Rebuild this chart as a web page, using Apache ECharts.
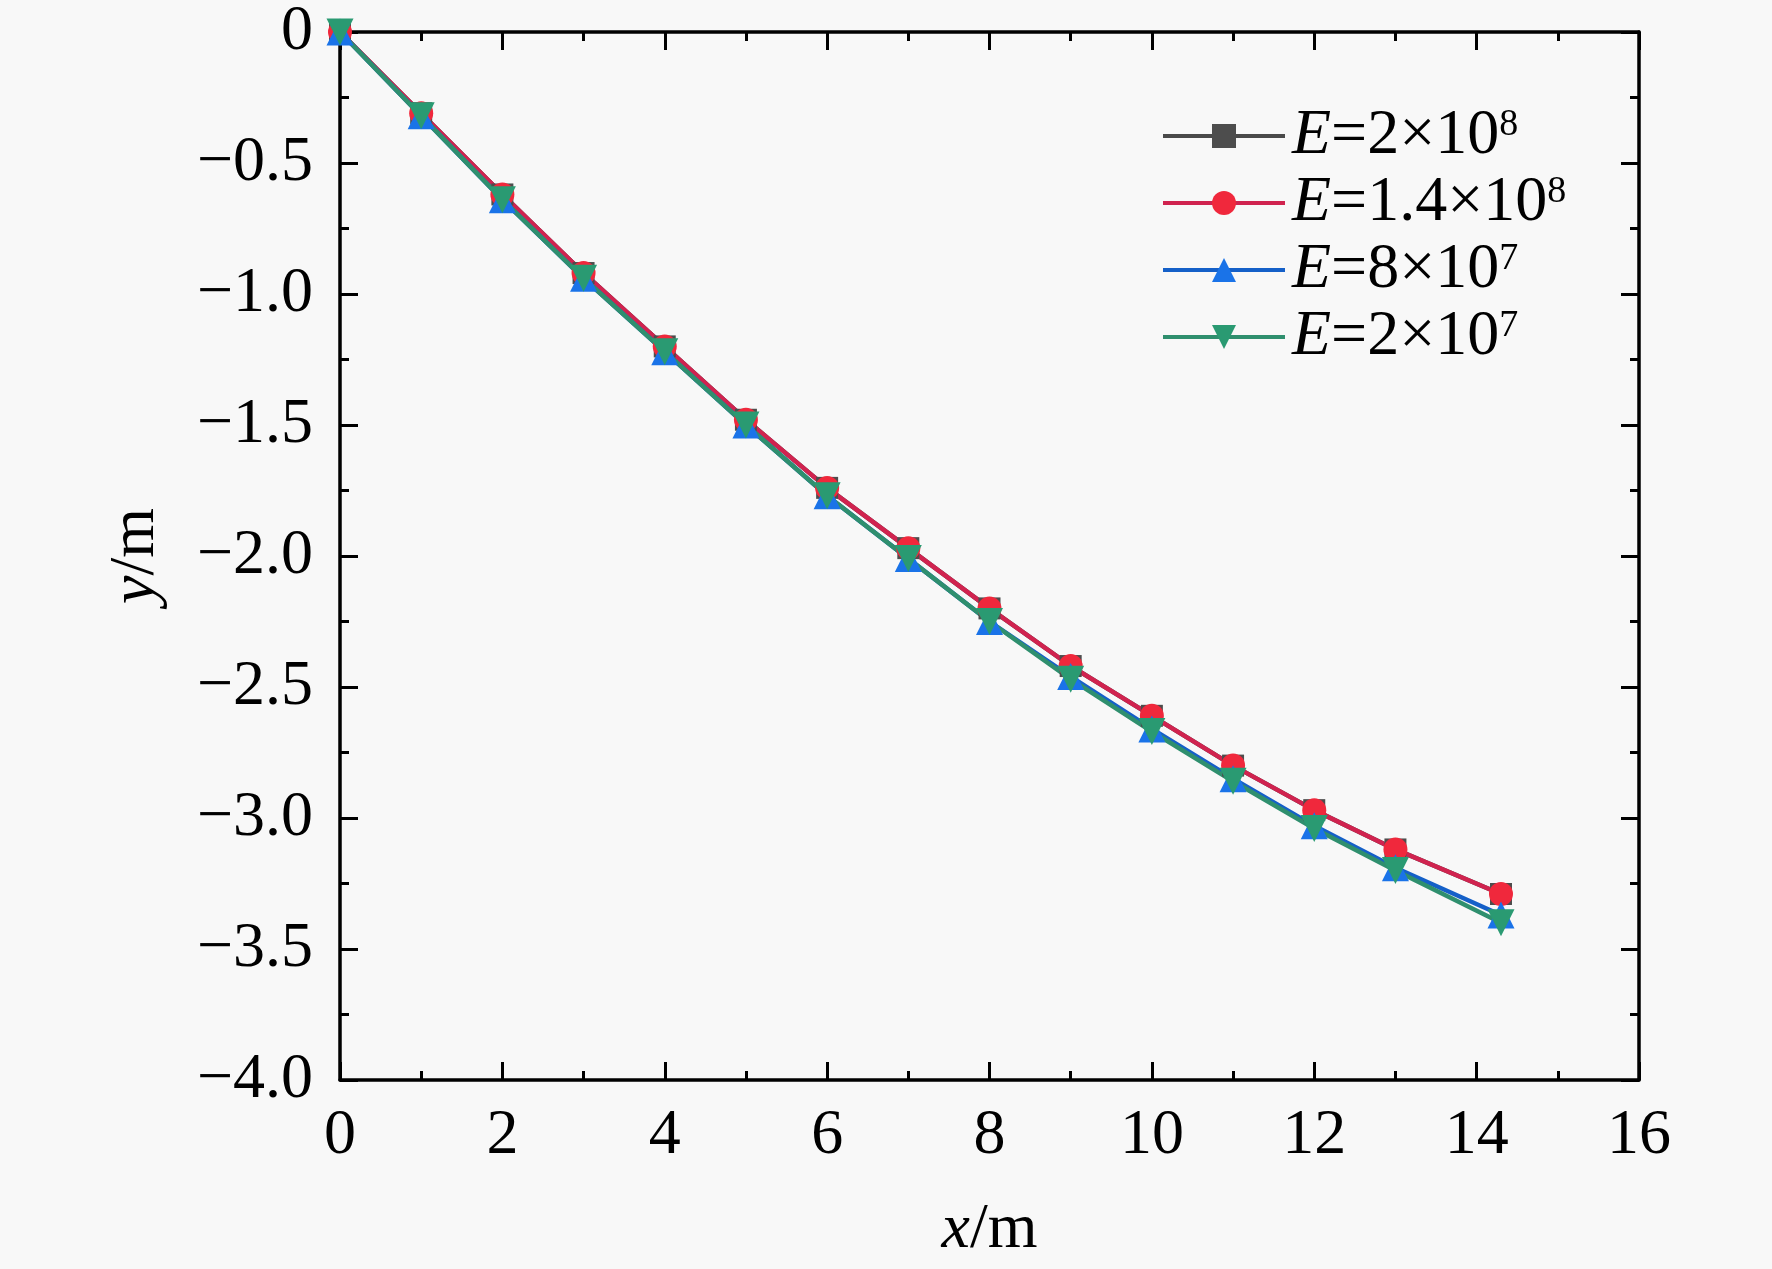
<!DOCTYPE html>
<html>
<head>
<meta charset="utf-8">
<script src="https://cdn.jsdelivr.net/npm/echarts@6/dist/echarts.min.js"></script>
<style>
html,body{margin:0;padding:0;background:#f8f8f8;}
#c{width:1772px;height:1269px;}
</style>
</head>
<body>
<div id="c"></div>
<script>
// x positions (m)
var xValues = [0, 1, 2, 3, 4, 5, 6, 7, 8, 9, 10, 11, 12, 13, 14.3];
// y deflection (m) for each modulus E
var yE2e8   = [0, -0.31, -0.62, -0.92, -1.20, -1.48, -1.74, -1.97, -2.20, -2.42, -2.61, -2.80, -2.97, -3.12, -3.29];
var yE14e8  = [0, -0.31, -0.62, -0.92, -1.20, -1.48, -1.74, -1.97, -2.20, -2.42, -2.61, -2.80, -2.97, -3.12, -3.29];
var yE8e7   = [0, -0.32, -0.64, -0.94, -1.22, -1.50, -1.77, -2.01, -2.25, -2.46, -2.66, -2.85, -3.03, -3.19, -3.37];
var yE2e7   = [0, -0.32, -0.64, -0.94, -1.22, -1.50, -1.77, -2.01, -2.25, -2.47, -2.67, -2.86, -3.04, -3.20, -3.40];
var seriesNames = ['E=2×10^8', 'E=1.4×10^8', 'E=8×10^7', 'E=2×10^7'];
var xTickValues = [0, 2, 4, 6, 8, 10, 12, 14, 16];
var xTickLabels = ['0', '2', '4', '6', '8', '10', '12', '14', '16'];
var yTickValues = [0, -0.5, -1.0, -1.5, -2.0, -2.5, -3.0, -3.5, -4.0];
var yTickLabels = ['0', '−0.5', '−1.0', '−1.5', '−2.0', '−2.5', '−3.0', '−3.5', '−4.0'];

var FONT = '"Liberation Serif", "Times New Roman", serif';
var FS = 64;
function pairs(xs, ys){ return xs.map(function(x,i){ return [x, ys[i]]; }); }
function lookup(vals, labels, v){
  for (var i=0;i<vals.length;i++){ if (Math.abs(vals[i]-v) < 1e-6) return labels[i]; }
  return '';
}
function legendText(name){
  var parts = name.split('^');
  var base = parts[0].substring(1); // after 'E'
  return '{i|E}{n|' + base + '}{s|' + parts[1] + '}';
}

var colors = {
  black: {line:'#4a4a4a', mark:'#4d4d4d'},
  red:   {line:'#d0234f', mark:'#f0283c'},
  blue:  {line:'#1560c8', mark:'#1a73e8'},
  green: {line:'#2f8f6e', mark:'#2a9a72'}
};

function mkSeries(name, ys, c, symbol, rotate){
  return {
    name: name, type: 'line', data: pairs(xValues, ys),
    symbol: symbol, symbolSize: symbol==='circle'?24:(symbol==='rect'?22:27),
    symbolRotate: rotate || 0,
    lineStyle: {color: c.line, width: 4.5},
    itemStyle: {color: c.mark, borderWidth: 0},
    emphasis: {disabled: true},
    animation: false
  };
}

var axisCommon = {
  type: 'value',
  axisLine: {show: true, onZero: false, lineStyle: {color: '#000', width: 3.5}},
  axisTick: {show: true, inside: true, length: 18, lineStyle: {color: '#000', width: 3}},
  minorTick: {show: true, splitNumber: 2, length: 9, lineStyle: {color: '#000', width: 3}},
  splitLine: {show: false}
};

var chart = echarts.init(document.getElementById('c'));
chart.setOption({
  backgroundColor: '#f8f8f8',
  animation: false,
  grid: {left: 340, right: 133, top: 32, bottom: 189, containLabel: false},
  xAxis: [
    Object.assign({}, axisCommon, {
      position: 'bottom', min: 0, max: 16, interval: 2,
      axisLabel: {show: true, fontFamily: FONT, fontSize: FS, color: '#000', margin: 24,
        formatter: function(v){ return lookup(xTickValues, xTickLabels, v); }},
      name: '{i|x}/m', nameLocation: 'middle', nameGap: 118,
      nameTextStyle: {fontFamily: FONT, fontSize: FS, color: '#000',
        rich: {i: {fontFamily: FONT, fontSize: FS, fontStyle: 'italic', color: '#000'}}}
    }),
    Object.assign({}, axisCommon, {
      position: 'top', min: 0, max: 16, interval: 2, axisLabel: {show: false}
    })
  ],
  yAxis: [
    Object.assign({}, axisCommon, {
      position: 'left', min: -4, max: 0, interval: 0.5,
      axisLabel: {show: true, fontFamily: FONT, fontSize: FS, color: '#000', margin: 27,
        formatter: function(v){ return lookup(yTickValues, yTickLabels, v); }},
      name: '{i|y}/m', nameLocation: 'middle', nameGap: 172, nameRotate: 90,
      nameTextStyle: {fontFamily: FONT, fontSize: FS, color: '#000',
        rich: {i: {fontFamily: FONT, fontSize: FS, fontStyle: 'italic', color: '#000'}}}
    }),
    Object.assign({}, axisCommon, {
      position: 'right', min: -4, max: 0, interval: 0.5, axisLabel: {show: false}
    })
  ],
  legend: {
    orient: 'vertical', left: 1156, top: 99,
    itemWidth: 122, itemHeight: 30, itemGap: 3,
    data: seriesNames,
    formatter: legendText,
    lineStyle: {width: 4},
    textStyle: {
      fontFamily: FONT, fontSize: FS, color: '#000', lineHeight: 60, padding: [0,0,0,2],
      rich: {
        i: {fontFamily: FONT, fontSize: FS, fontStyle: 'italic', color: '#000', lineHeight: 60},
        n: {fontFamily: FONT, fontSize: FS, color: '#000', lineHeight: 60},
        s: {fontFamily: FONT, fontSize: 38, color: '#000', verticalAlign: 'top', lineHeight: 34}
      }
    }
  },
  series: [
    mkSeries(seriesNames[0], yE2e8, colors.black, 'rect'),
    mkSeries(seriesNames[1], yE14e8, colors.red, 'circle'),
    mkSeries(seriesNames[2], yE8e7, colors.blue, 'triangle'),
    mkSeries(seriesNames[3], yE2e7, colors.green, 'triangle', 180)
  ]
});
</script>
</body>
</html>
